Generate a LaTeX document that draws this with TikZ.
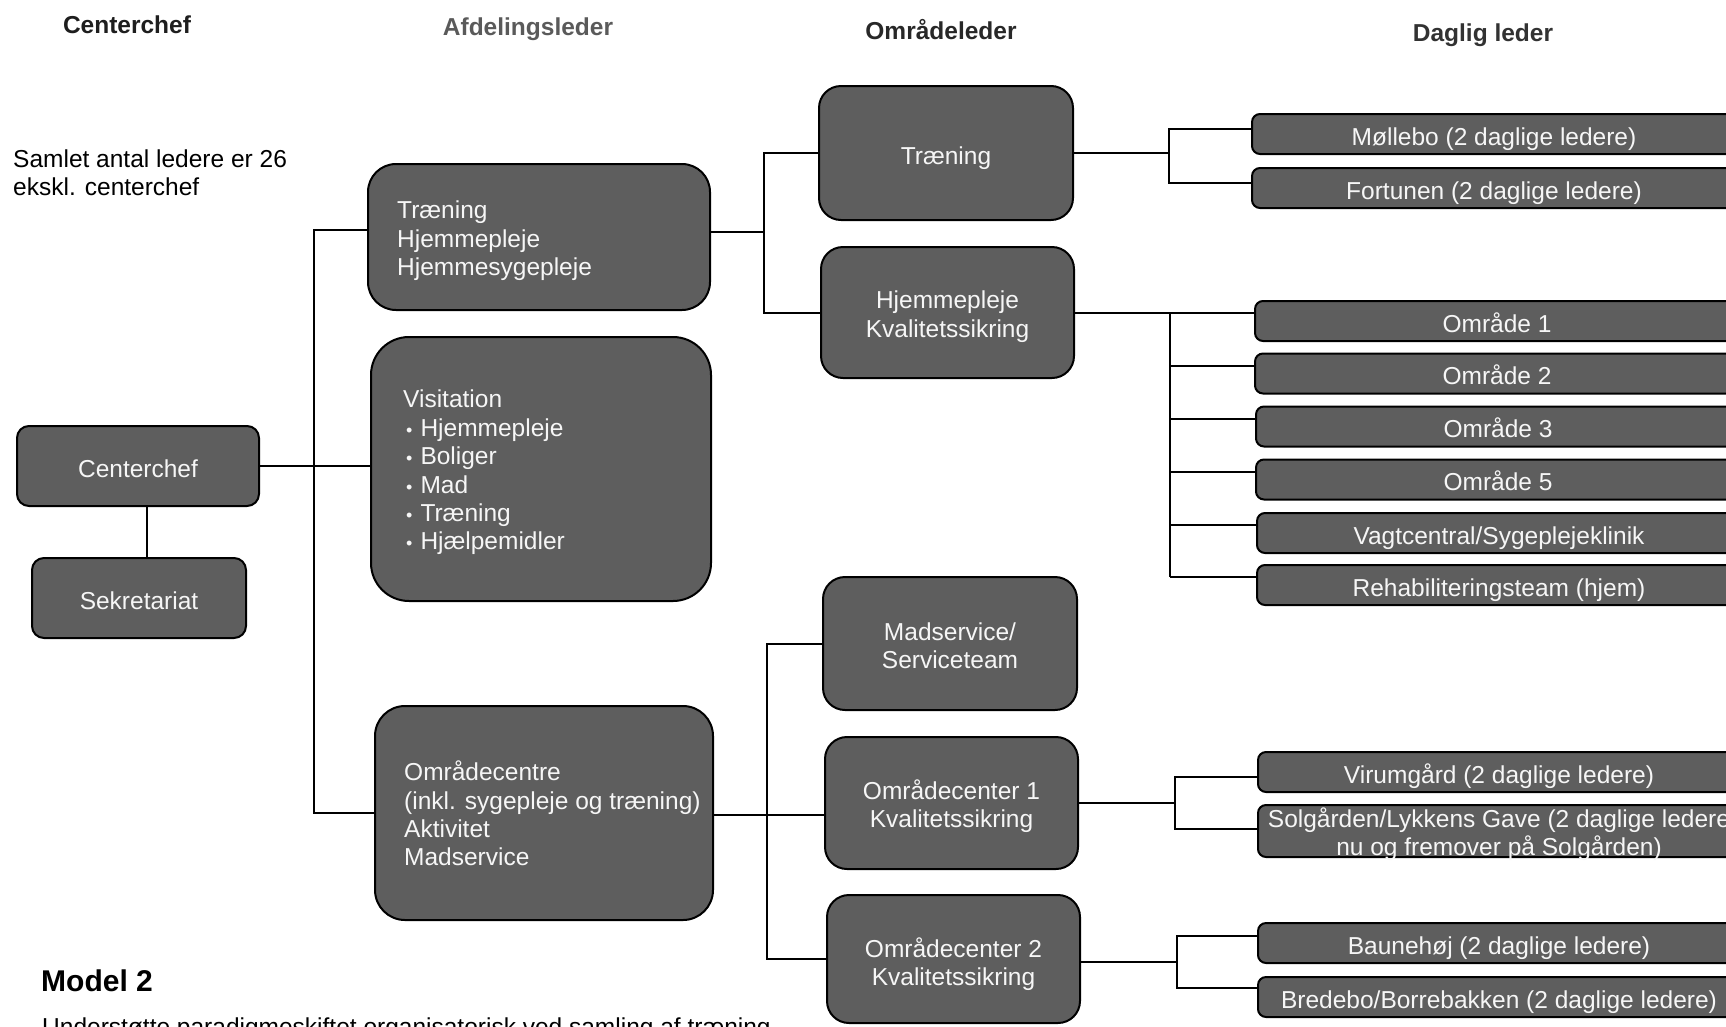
\documentclass[tikz,border=0pt]{standalone}
\usepackage{fontspec}
\setmainfont{Liberation Sans}
\definecolor{boxgray}{RGB}{94,94,94}
\definecolor{boxtext}{RGB}{246,246,246}
\newcommand\orgfont{\fontsize{24.5}{28.4}\selectfont}
\newcommand\orgheadfont{\fontsize{24.5}{28.4}\selectfont\bfseries}
\newcommand\orgbullet{\hspace*{3pt}{\fontsize{18}{18}\selectfont\textbullet}\hspace*{8pt}}
\tikzset{
  orgbox/.style={draw=black, line width=2pt, fill=boxgray, text=boxtext,
    inner sep=0pt, align=center, font=\orgfont},
  oneline/.style={text height=22pt, text depth=0pt},
  bigbox/.style={orgbox, rounded corners=28pt},
  midbox/.style={orgbox, rounded corners=22pt},
  smallbox/.style={orgbox, oneline, rounded corners=8pt},
  boxtxt/.style={text=boxtext, inner sep=0pt, align=left, font=\orgfont, anchor=west},
  boxctr/.style={text=boxtext, inner sep=0pt, align=center, font=\orgfont},
  link/.style={draw=black, line width=2pt},
  head/.style={font=\orgheadfont, inner sep=0pt},
  plain/.style={font=\orgfont, inner sep=0pt, align=left, text=black},
}
\begin{document}
\begin{tikzpicture}[x=1pt,y=-1pt]
\useasboundingbox (0,0) rectangle (1726,1026);
\clip (0,0) rectangle (1726,1026);
\fill[white] (0,0) rectangle (1726,1026);

% column headings
\node[head, text={rgb,255:red,30;green,30;blue,30}] (h1) at (127,25) {Centerchef};
\node[head, text={rgb,255:red,90;green,90;blue,90}] (h2) at (528,29.5) {Afdelingsleder};
\node[head, text={rgb,255:red,40;green,40;blue,40}] (h3) at (941,29.5) {Områdeleder};
\node[head, text={rgb,255:red,50;green,50;blue,50}] (h4) at (1483,35) {Daglig leder};

% side notes
\node[plain, anchor=west] (note) at (13,173) {Samlet antal ledere er 26\\ekskl. centerchef};
\node[plain, anchor=west, font=\fontsize{30}{34}\selectfont\bfseries] (model) at (41,981) {Model 2};
\node[plain, anchor=base west] (cut) at (42,1035) {Understøtte paradigmeskiftet organisatorisk ved samling af træning};

% centre management
\node[orgbox, oneline, rounded corners=12pt, minimum width=242pt, minimum height=80pt] (cc) at (138,466) {Centerchef};
\node[orgbox, oneline, rounded corners=12pt, minimum width=214pt, minimum height=80pt] (sek) at (139,598) {Sekretariat};

% department heads
\node[bigbox, minimum width=342pt, minimum height=146pt] (a1) at (539,237) {};
\node[boxtxt] (a1t) at ([xshift=30pt,yshift=-4pt]a1.west) {Træning\\Hjemmepleje\\Hjemmesygepleje};
\node[orgbox, rounded corners=38pt, minimum width=340pt, minimum height=264pt] (a2) at (541,469) {};
\node[boxtxt] (a2t) at ([xshift=33pt,yshift=-3.5pt]a2.west) {Visitation\\\orgbullet Hjemmepleje\\\orgbullet Boliger\\\orgbullet Mad\\\orgbullet Træning\\\orgbullet Hjælpemidler};
\node[bigbox, rounded corners=30pt, minimum width=338pt, minimum height=214pt] (a3) at (544,813) {};
\node[boxtxt] (a3t) at ([xshift=30pt,yshift=-0.5pt]a3.west) {Områdecentre\\(inkl. sygepleje og træning)\\Aktivitet\\Madservice};

% area heads
\node[midbox, oneline, minimum width=254pt, minimum height=134pt] (b1) at (946,153) {Træning};
\node[midbox, minimum width=253pt, minimum height=131pt] (b2) at (947.5,312.5) {};
\node[boxctr] (b2t) at ([yshift=-4pt]b2.center) {Hjemmepleje\\Kvalitetssikring};
\node[midbox, minimum width=254pt, minimum height=133pt] (b3) at (950,643.5) {};
\node[boxctr] (b3t) at ([yshift=-2pt]b3.center) {Madservice/\\Serviceteam};
\node[midbox, minimum width=253pt, minimum height=132pt] (b4) at (951.5,803) {};
\node[boxctr] (b4t) at ([yshift=-3pt]b4.center) {Områdecenter 1\\Kvalitetssikring};
\node[midbox, minimum width=253pt, minimum height=128pt] (b5) at (953.5,959) {};
\node[boxctr] (b5t) at ([yshift=-5pt]b5.center) {Områdecenter 2\\Kvalitetssikring};

% daily managers
\node[smallbox, minimum width=484pt, minimum height=40pt] (d1) at (1494,134) {Møllebo (2 daglige ledere)};
\node[smallbox, minimum width=484pt, minimum height=40pt] (d2) at (1494,188) {Fortunen (2 daglige ledere)};
\node[smallbox, minimum width=484pt, minimum height=40pt] (o1) at (1497,321) {Område 1};
\node[smallbox, minimum width=484pt, minimum height=40pt] (o2) at (1497,373.5) {Område 2};
\node[smallbox, minimum width=484pt, minimum height=40pt] (o3) at (1498,426.5) {Område 3};
\node[smallbox, minimum width=484pt, minimum height=40pt] (o5) at (1498,479.5) {Område 5};
\node[smallbox, minimum width=484pt, minimum height=40pt] (vc) at (1499,533) {Vagtcentral/Sygeplejeklinik};
\node[smallbox, minimum width=484pt, minimum height=40pt] (rt) at (1499,585) {Rehabiliteringsteam (hjem)};
\node[smallbox, minimum width=482pt, minimum height=40pt] (vg) at (1499,772) {Virumgård (2 daglige ledere)};
\node[orgbox, rounded corners=8pt, minimum width=482pt, minimum height=52pt] (sg) at (1499,831) {};
\node[boxctr] (sgt) at ([yshift=-3pt]sg.center) {Solgården/Lykkens Gave (2 daglige ledere\\nu og fremover på Solgården)};
\node[smallbox, minimum width=482pt, minimum height=40pt] (bh) at (1499,943) {Baunehøj (2 daglige ledere)};
\node[smallbox, minimum width=482pt, minimum height=40pt] (bb) at (1499,997) {Bredebo/Borrebakken (2 daglige ledere)};

% trunk positions
\coordinate (t1) at (314,0);
\coordinate (t2) at (764,0);
\coordinate (t3) at (767,0);
\coordinate (f1) at (1169,0);
\coordinate (f2) at (1170,0);
\coordinate (f3) at (1175,0);
\coordinate (f4) at (1177,0);

% connectors
\draw[link] ([xshift=9pt]cc.south) -- ([xshift=8pt]sek.north);
\draw[link] (cc.east) -- (cc.east -| a2.west);
\draw[link] ([yshift=7pt]a1.west) -- ([yshift=7pt]a1.west -| t1) -- (a3.west -| t1) -- (a3.west);

\draw[link] ([yshift=5pt]a1.east) -- ([yshift=5pt]a1.east -| t2);
\draw[link] (b1.west) -- (b1.west -| t2) -- (b2.west -| t2) -- (b2.west);

\draw[link] ([yshift=-2pt]a3.east) -- ([yshift=-2pt]a3.east -| b4.west);
\draw[link] (b3.west) -- (b3.west -| t3) -- (b5.west -| t3) -- (b5.west);

\draw[link] (b1.east) -- (b1.east -| f1);
\draw[link] ([yshift=5pt]d1.west) -- ([yshift=5pt]d1.west -| f1) -- ([yshift=5pt]d2.west -| f1) -- ([yshift=5pt]d2.west);

\draw[link] (b2.east) -- (b2.east -| o1.west);
\draw[link] (b2.east -| f2) -- ([yshift=8pt]rt.west -| f2);
\foreach \n in {o2,o3,o5,vc,rt}
  \draw[link] ([yshift=8pt]\n.west -| f2) -- ([yshift=8pt]\n.west);

\draw[link] (b4.east) -- (b4.east -| f3);
\draw[link] ([yshift=-5pt]vg.west) -- ([yshift=-5pt]vg.west -| f3) -- ([yshift=2pt]sg.west -| f3) -- ([yshift=2pt]sg.west);

\draw[link] ([yshift=-3pt]b5.east) -- ([yshift=-3pt]b5.east -| f4);
\draw[link] ([yshift=7pt]bh.west) -- ([yshift=7pt]bh.west -| f4) -- ([yshift=9pt]bb.west -| f4) -- ([yshift=9pt]bb.west);
\end{tikzpicture}
\end{document}
